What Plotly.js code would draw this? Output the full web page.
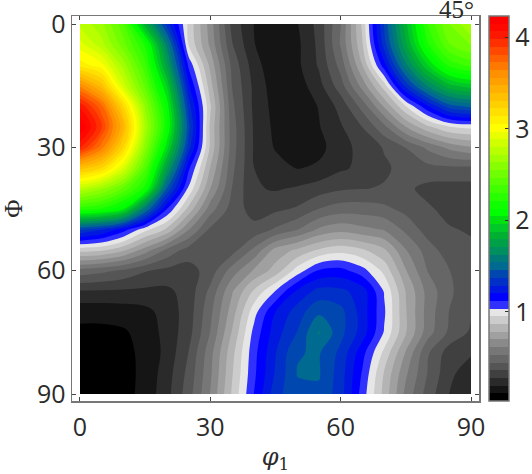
<!DOCTYPE html>
<html>
<head>
<meta charset="utf-8">
<script src="https://cdn.plot.ly/plotly-3.0.1.min.js"></script>
<style>html,body{margin:0;padding:0;background:#fff}</style>
</head>
<body>
<div id="chart" style="width:532px;height:474px"></div>
<script>
const phi1 = [0,5,10,15,20,25,30,35,40,45,50,55,60,65,70,75,80,85,90];
const Phi  = [0,5,10,15,20,25,30,35,40,45,50,55,60,65,70,75,80,85,90];
const row00 = [2.78,2.66,2.40,1.82,1.33,.93,.66,.335,.195,.14,.19,.31,.53,.89,1.38,1.85,2.30,2.55,2.72];
const row05 = [2.92,2.75,2.50,2.20,1.60,.945,.68,.37,.20,.125,.175,.30,.54,.86,1.33,1.78,2.20,2.46,2.56];
const row10 = [3.10,3.00,2.68,2.32,1.75,1.10,.76,.424,.237,.125,.175,.29,.48,.784,1.17,1.60,1.96,2.24,2.33];
const row15 = [3.62,3.35,2.85,2.45,1.95,1.22,.82,.445,.26,.146,.15,.25,.41,.65,.91,1.32,1.63,1.85,1.93];
const row20 = [4.05,3.75,3.22,2.62,2.10,1.33,.88,.47,.262,.163,.14,.20,.31,.48,.71,.95,1.19,1.42,1.48];
const row25 = [4.23,3.90,3.40,2.70,2.15,1.40,.85,.49,.27,.174,.14,.19,.27,.365,.51,.70,.85,.95,.975];
const row30 = [4.00,3.68,3.22,2.60,2.00,1.33,.85,.49,.273,.187,.15,.17,.245,.31,.37,.45,.55,.64,.69];
const row35 = [3.35,3.22,2.88,2.40,1.75,1.14,.78,.47,.28,.23,.19,.21,.265,.30,.35,.39,.42,.43,.43];
const row40 = [2.78,2.65,2.45,2.18,1.45,1.02,.70,.445,.29,.27,.29,.32,.35,.36,.37,.38,.34,.33,.33];
const row45 = [2.25,2.20,2.05,1.55,1.12,.84,.57,.41,.33,.345,.375,.45,.49,.49,.47,.42,.375,.34,.33];
const row50 = [1.38,1.30,1.16,.98,.85,.62,.43,.39,.39,.46,.53,.63,.67,.64,.61,.51,.41,.37,.355];
const row55 = [.90,.88,.80,.66,.51,.41,.38,.41,.55,.73,.80,.88,.92,.88,.80,.62,.49,.40,.38];
const row60 = [.50,.47,.43,.37,.34,.33,.40,.57,.71,.82,.99,1.13,1.15,1.07,.93,.705,.53,.45,.39];
const row65 = [.27,.27,.265,.26,.26,.315,.47,.69,.88,1.04,1.22,1.32,1.31,1.25,1.03,.78,.585,.465,.38];
const row70 = [.14,.14,.15,.17,.23,.32,.51,.74,1.00,1.205,1.33,1.44,1.40,1.25,1.05,.79,.58,.445,.37];
const row75 = [.09,.09,.10,.145,.225,.33,.535,.79,1.06,1.25,1.375,1.55,1.40,1.25,1.03,.79,.57,.43,.35];
const row80 = [.07,.07,.085,.135,.22,.366,.585,.84,1.09,1.285,1.452,1.465,1.35,1.15,.93,.69,.46,.32,.29];
const row85 = [.06,.06,.08,.135,.24,.39,.60,.86,1.10,1.30,1.46,1.465,1.33,1.11,.86,.63,.445,.30,.23];
const row90 = [.05,.05,.08,.14,.25,.41,.62,.88,1.12,1.34,1.44,1.44,1.33,1.08,.84,.59,.41,.278,.21];
const bandColors = [
 '#000000','#151515','#2a2a2a','#404040','#555555','#666666','#777777','#8a8a8a','#a0a0a0','#b4b4b4',
 '#cccccc','#e6e6e6','#3030ff','#0000ff','#0018e0','#0030c8','#0048b0','#006a90','#007a78','#009060',
 '#00a048','#00b030','#00c828','#00e010','#00ff00','#10ff00','#28ff00','#40ff00','#58ff00','#70ff00',
 '#88ff00','#a0ff00','#b8ff00','#d0ff00','#e8ff00','#ffff00','#fff000','#ffe000','#ffd000','#ffc000',
 '#ffb000','#ffa000','#ff9000','#ff7800','#ff6000','#ff4800','#ff3000','#ff1800','#ff0800','#ff0000'];
const tickVals = [0,30,60,90];
const cbarTicks = [1,2,3,4];
const zLow = 0.027, zHigh = 4.232;

const z = [row00,row05,row10,row15,row20,row25,row30,row35,row40,row45,row50,row55,row60,row65,row70,row75,row80,row85,row90];
const n = bandColors.length, step = (zHigh - zLow) / n;
const colorscale = [];
bandColors.forEach((c,i)=>{ colorscale.push([i/n,c]); colorscale.push([(i+1)/n,c]); });

const tickFont = {family:'"Open Sans", "Noto Sans", sans-serif', size:25, color:'#2b2b2b'};
const serif = '"Liberation Serif", "DejaVu Serif", serif';
const axisCommon = {
  tickmode:'array', tickvals:tickVals, ticktext:tickVals.map(String),
  ticks:'inside', ticklen:4, tickwidth:1, tickcolor:'#444',
  showline:true, linecolor:'#777', linewidth:1.5, mirror:'ticks',
  showgrid:false, zeroline:false, tickfont:tickFont
};
const trace = {
  type:'contour', x:phi1, y:Phi, z:z, zmin:zLow, zmax:zHigh, zauto:false,
  colorscale:colorscale, autocontour:false,
  contours:{coloring:'fill', showlines:false, start:zLow+step, end:zLow+(n-1)*step, size:step},
  line:{width:0, smoothing:1},
  hoverinfo:'skip',
  colorbar:{
    x:1.0246, xanchor:'left', xpad:0, ypad:0, y:0.5, yanchor:'middle', len:1, lenmode:'fraction',
    thickness:20, thicknessmode:'pixels',
    outlinecolor:'#777', outlinewidth:1.5, borderwidth:0,
    tickmode:'array', tickvals:cbarTicks, ticktext:cbarTicks.map(String),
    ticks:'inside', ticklen:4, tickwidth:1, tickcolor:'#333', tickfont:tickFont
  }
};
const layout = {
  width:532, height:474, autosize:false,
  margin:{l:72, r:53, t:16, b:73, pad:0, autoexpand:false},
  paper_bgcolor:'#fff', plot_bgcolor:'#fff', showlegend:false,
  xaxis:Object.assign({}, axisCommon, {range:[-1.84,91.84], ticklabelstandoff:3,
    title:{text:'<i>φ</i><sub>1</sub>', standoff:10, font:{family:'"DejaVu Serif", serif', size:24, color:'#2b2b2b'}}}),
  yaxis:Object.assign({}, axisCommon, {range:[91.7,-1.95],
    title:{text:'Φ', standoff:14, font:{family:serif, size:25, color:'#2b2b2b'}}}),
  annotations:[{
    text:'45°', xref:'paper', yref:'paper', x:1, y:1, xanchor:'right', yanchor:'bottom',
    xshift:-3, yshift:-9, showarrow:false, font:{family:serif, size:25, color:'#2b2b2b'}
  }]
};
Plotly.newPlot('chart',[trace],layout,{displayModeBar:false,staticPlot:true});
</script>
</body>
</html>
